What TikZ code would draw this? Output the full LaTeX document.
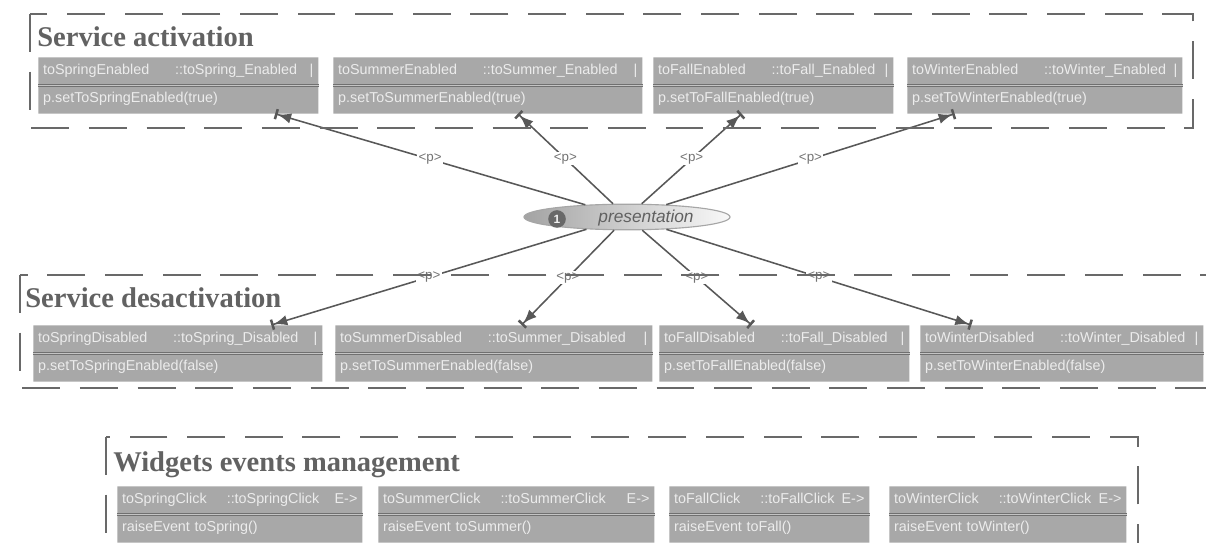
\documentclass[tikz,border=0pt]{standalone}
\usepackage{fontspec}
\setmainfont{Liberation Sans}
\newfontfamily\titlefont{Liberation Serif}
\usetikzlibrary{arrows.meta,shapes.geometric,shapes.multipart}

\definecolor{boxfill}{RGB}{168,168,168}
\definecolor{boxtext}{RGB}{236,236,236}
\definecolor{framegray}{RGB}{105,105,105}
\definecolor{titlegray}{RGB}{98,98,98}
\definecolor{linkgray}{RGB}{88,88,88}
\definecolor{labelgray}{RGB}{115,115,115}
\definecolor{splitdark}{RGB}{112,112,112}
\definecolor{splitlight}{RGB}{196,196,196}
\definecolor{badgegray}{RGB}{105,105,105}

\begin{document}
\begin{tikzpicture}[
  x=0.025cm, y=-0.025cm,
  font=\fontsize{10.2}{12}\selectfont,
  opbox/.style={rectangle split, rectangle split parts=2, fill=boxfill,
                text=boxtext, text width=#1, align=left, anchor=north west,
                inner xsep=3.5pt, inner ysep=3.8pt},
  grptitle/.style={font=\titlefont\bfseries\fontsize{20.3}{24}\selectfont,
                   text=titlegray, anchor=base west, inner sep=0pt},
  grpframe/.style={draw=framegray, line width=1.4pt,
                   dash pattern=on 27pt off 14pt},
  splitline/.style={draw=splitdark, line width=0.6pt,
                    double=splitlight, double distance=0.7pt},
  link/.style={draw=linkgray, line width=1.1pt,
               -{Latex[length=3.4mm,width=2.6mm] Bar[width=2.6mm,line width=1.8pt]}},
  plabel/.style={font=\fontsize{9.5}{11}\selectfont, text=labelgray,
                 fill=white, inner sep=1pt},
  presnode/.style={ellipse, minimum width=5.15cm, minimum height=0.64cm,
                   draw=gray!70, line width=0.8pt,
                   left color=gray!72, right color=gray!5},
  badge/.style={circle, fill=badgegray, text=white!90!gray, inner sep=0pt,
                font=\bfseries\fontsize{8.5}{9}\selectfont, minimum size=0.44cm},
]

% --- fixed bounding box (white background) ---
\path[use as bounding box, fill=white] (0,0) rectangle (1206,543);

% ============================ TITLES ================================
\node[grptitle] (tact) at (37,47)   {Service activation};
\node[grptitle] (tdes) at (25,308)  {Service desactivation};
\node[grptitle] (twid) at (113,472) {Widgets events management};

% ============================ BOXES =================================
% Service activation
\node[opbox=6.754cm] (se1) at (38,57)
  {toSpringEnabled\hspace{1.8em}::toSpring\_Enabled\hspace{\stretch{1}}|\strut
   \nodepart{two} p.setToSpringEnabled(true)\strut};
\node[opbox=7.479cm] (se2) at (333,57)
  {toSummerEnabled\hspace{1.8em}::toSummer\_Enabled\hspace{\stretch{1}}|\strut
   \nodepart{two} p.setToSummerEnabled(true)\strut};
\node[opbox=5.754cm] (se3) at (653,57)
  {toFallEnabled\hspace{1.8em}::toFall\_Enabled\hspace{\stretch{1}}|\strut
   \nodepart{two} p.setToFallEnabled(true)\strut};
\node[opbox=6.629cm] (se4) at (907,57)
  {toWinterEnabled\hspace{1.8em}::toWinter\_Enabled\hspace{\stretch{1}}|\strut
   \nodepart{two} p.setToWinterEnabled(true)\strut};

% Service desactivation
\node[opbox=6.979cm] (sd1) at (33,325)
  {toSpringDisabled\hspace{1.8em}::toSpring\_Disabled\hspace{\stretch{1}}|\strut
   \nodepart{two} p.setToSpringEnabled(false)\strut};
\node[opbox=7.679cm] (sd2) at (335,325)
  {toSummerDisabled\hspace{1.8em}::toSummer\_Disabled\hspace{\stretch{1}}|\strut
   \nodepart{two} p.setToSummerEnabled(false)\strut};
\node[opbox=6.004cm] (sd3) at (659,325)
  {toFallDisabled\hspace{1.8em}::toFall\_Disabled\hspace{\stretch{1}}|\strut
   \nodepart{two} p.setToFallEnabled(false)\strut};
\node[opbox=6.829cm] (sd4) at (920,325)
  {toWinterDisabled\hspace{1.8em}::toWinter\_Disabled\hspace{\stretch{1}}|\strut
   \nodepart{two} p.setToWinterEnabled(false)\strut};

% Widgets events management
\node[opbox=5.879cm] (wc1) at (117,486)
  {toSpringClick\hspace{1.4em}::toSpringClick\hspace{\stretch{1}}E->\strut
   \nodepart{two} raiseEvent toSpring()\strut};
\node[opbox=6.654cm] (wc2) at (378,486)
  {toSummerClick\hspace{1.4em}::toSummerClick\hspace{\stretch{1}}E->\strut
   \nodepart{two} raiseEvent toSummer()\strut};
\node[opbox=4.754cm] (wc3) at (669,486)
  {toFallClick\hspace{1.4em}::toFallClick\hspace{\stretch{1}}E->\strut
   \nodepart{two} raiseEvent toFall()\strut};
\node[opbox=5.679cm] (wc4) at (889,486)
  {toWinterClick\hspace{1.4em}::toWinterClick\hspace{\stretch{1}}E->\strut
   \nodepart{two} raiseEvent toWinter()\strut};

% header / body separators
\foreach \b in {se1,se2,se3,se4,sd1,sd2,sd3,sd4,wc1,wc2,wc3,wc4}
  \draw[splitline] (\b.text split west) -- (\b.text split east);

% ====================== PRESENTATION ELLIPSE ========================
\node[presnode] (pres) at (627,217) {};
\node[badge] (one) at (557,219) {1};
\node[font=\itshape\fontsize{12.3}{14}\selectfont, text=black!62] (ptext)
  at (646,218) {presentation};

% ============================ EDGES =================================
\foreach \b in {se1,se2,se3,se4,sd1,sd2,sd3,sd4}
  \draw[link] (pres) -- node[plabel] (p-\b) {<p>} (\b);

% --- group frames (drawn last, on top) ---
\draw[grpframe] (30,14) rectangle (1193,128);
\draw[grpframe] (20,275) rectangle (1208,388);
\draw[grpframe] (106,437) rectangle (1138,560);

\end{tikzpicture}
\end{document}
